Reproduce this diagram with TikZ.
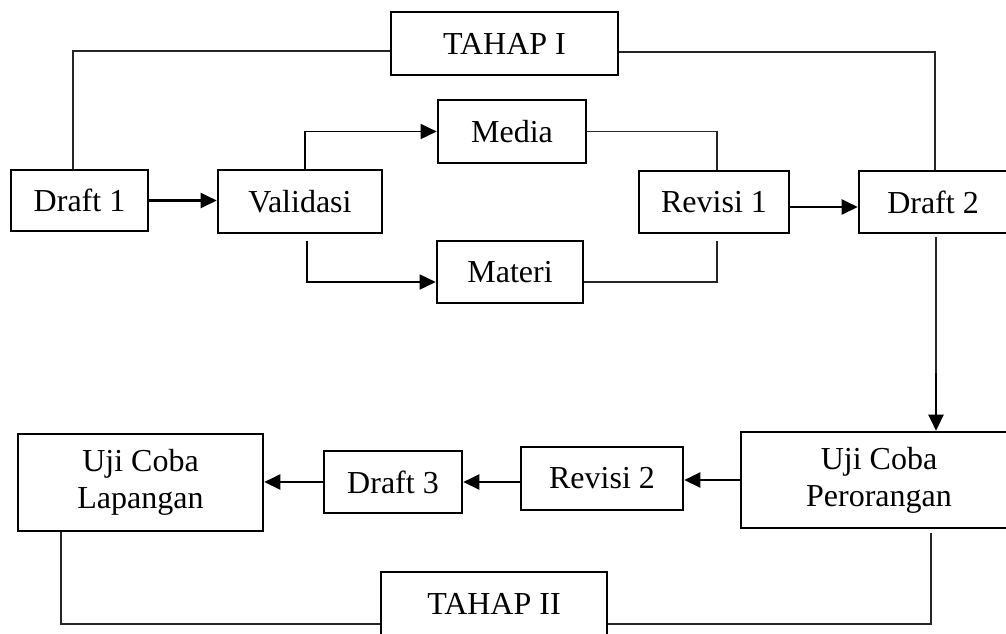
\documentclass[tikz,border=0pt]{standalone}
\usepackage{fontspec}
\setmainfont{Liberation Serif}
\usetikzlibrary{arrows.meta}

\tikzset{
  box/.style={draw=black, line width=2.6pt, fill=white, inner sep=0pt,
              align=center, font=\fontsize{32}{37}\selectfont},
  plainline/.style={draw=black!85, line width=1.1pt},
  arrowline/.style={line width=2.4pt, -{Triangle[length=16pt,width=15pt]}},
  branchline/.style={line width=1.6pt, -{Triangle[length=16pt,width=15pt]}}
}

\begin{document}
\begin{tikzpicture}[x=1pt,y=-1pt]

\clip (0,0) rectangle (1006,633);

% NODES

\node(tahap1)[box, minimum width=227, minimum height=63] at (504.5,43.5) {TAHAP I};

\node(draft1)[box, minimum width=137, minimum height=61] at (79.5,200.5) {Draft 1};
\node(validasi)[box, minimum width=164, minimum height=63] at (300,201.5) {Validasi};
\node(media)[box, minimum width=148, minimum height=63] at (512,131.5) {Media};
\node(materi)[box, minimum width=146, minimum height=62] at (510,272) {Materi};
\node(revisi1)[box, minimum width=150, minimum height=62] at (714,202) {Revisi 1};
\node(draft2)[box, minimum width=148, minimum height=62] at (933,202) {Draft 2};

\node(ujiPerorangan)[box, minimum width=276, minimum height=96] at (879,480) {Uji Coba\\Perorangan};
\node(revisi2)[box, minimum width=162, minimum height=63] at (602,478.5) {Revisi 2};
\node(draft3)[box, minimum width=138, minimum height=62] at (393,482) {Draft 3};
\node(ujiLapangan)[box, minimum width=245, minimum height=97] at (140.5,482.5) {Uji Coba\\Lapangan};

\node(tahap2)[box, minimum width=226, minimum height=63] at (494,603.5) {TAHAP II};

% tahap I frame
\draw[plainline] ([xshift=-6.5pt]draft1.north) |- ([yshift=-7.5pt]tahap1.west);
\draw[plainline] ([yshift=-8.5pt]tahap1.east) -| ([xshift=2pt]draft2.north);

% validasi branches
\draw[arrowline] (draft1.east) -- (draft1.east -| validasi.west);
\draw[branchline] ([xshift=5pt]validasi.north) |- (media.west);
\draw[branchline] ([shift={(7pt,-7pt)}]validasi.south) |- ([yshift=-10pt]materi.west);
\draw[plainline] (media.east) -| ([xshift=3pt]revisi1.north);
\draw[plainline] ([yshift=-10pt]materi.east) -| ([shift={(3pt,-7pt)}]revisi1.south);
\draw[arrowline] ([yshift=-5pt]revisi1.east) -- ([yshift=-5pt]draft2.west);

% down to tahap II
\coordinate(bend) at (936,373);
\draw[plainline] ([shift={(3pt,-3pt)}]draft2.south) -- (bend);
\draw[arrowline] (bend) -- (bend |- ujiPerorangan.north);
\draw[arrowline] (ujiPerorangan.west) -- (ujiPerorangan.west -| revisi2.east);
\draw[arrowline] (draft3.east -| revisi2.west) -- (draft3.east);
\draw[arrowline] (draft3.west) -- (draft3.west -| ujiLapangan.east);

% tahap II frame
\draw[plainline] ([xshift=-79.5pt]ujiLapangan.south) |- ([yshift=-20.5pt]tahap2.west);
\draw[plainline] ([yshift=-20.5pt]tahap2.east) -| ([shift={(52pt,-4pt)}]ujiPerorangan.south);

\end{tikzpicture}
\end{document}
